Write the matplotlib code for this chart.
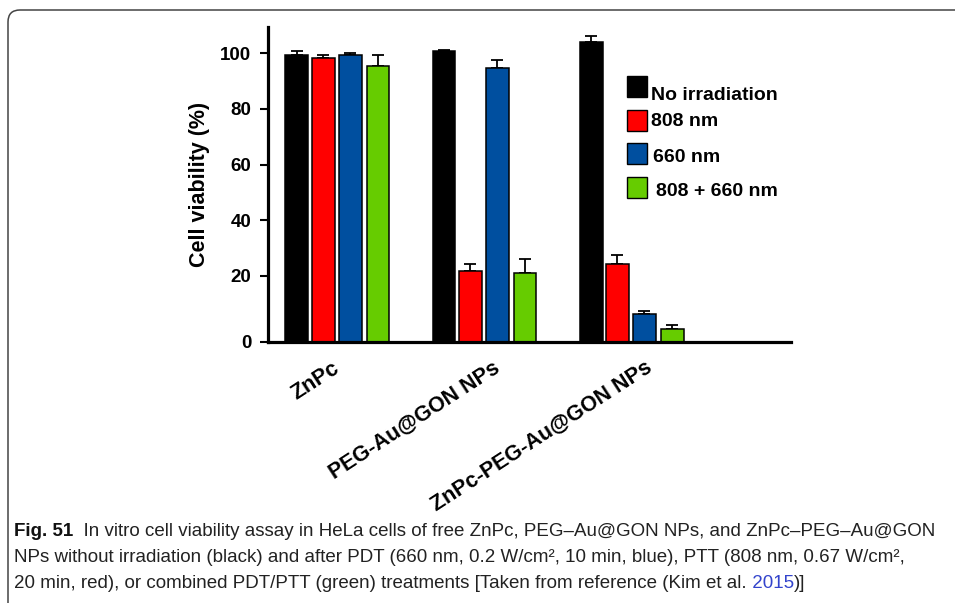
import matplotlib
matplotlib.use("Agg")
import matplotlib.pyplot as plt
import numpy as np
from matplotlib.patches import FancyBboxPatch, Rectangle

W, H, DPI = 955, 603, 100

GROUPS = ["ZnPc", "PEG-Au@GON NPs", "ZnPc-PEG-Au@GON NPs"]
SERIES = ["No irradiation", "808 nm", "660 nm", "808 + 660 nm"]
COLORS = ["#000000", "#ff0000", "#004f9f", "#66cc00"]

# cell viability (%), one value per group
NO_IRR = [99.5, 100.7, 104.0]
NM_808 = [98.1, 21.9, 24.4]
NM_660 = [99.4, 94.8, 6.3]
COMBO = [95.5, 21.2, 1.0]
# upper error bars
ERR_NO_IRR = [1.2, 0.5, 2.0]
ERR_808 = [1.4, 2.5, 3.2]
ERR_660 = [0.6, 2.7, 1.3]
ERR_COMBO = [4.0, 4.8, 1.5]

YTICKS = [0, 20, 40, 60, 80, 100]

CAPTION = [
    [("Fig. 51", "bold", "#111111"),
     ("  In vitro cell viability assay in HeLa cells of free ZnPc, PEG\u2013Au@GON NPs, and ZnPc\u2013PEG\u2013Au@GON",
      "normal", "#222222")],
    [("NPs without irradiation (black) and after PDT (660 nm, 0.2 W/cm\u00b2, 10 min, blue), PTT (808 nm, 0.67 W/cm\u00b2,",
      "normal", "#222222")],
    [("20 min, red), or combined PDT/PTT (green) treatments [Taken from reference (Kim et al.", "normal", "#222222"),
     (" 2015", "normal", "#3344cc"),
     (")]", "normal", "#222222")],
]

# the original draws its "0" at the axis line, slightly below true zero
YBASE = -3.7
BAR_W = 0.156
OFFSETS = [0.0, 0.179, 0.361, 0.551]
LABEL_SHIFT = [0.0, 0.09, 0.13]

plt.rcParams["font.family"] = ["Liberation Sans", "DejaVu Sans"]


def fig_xy(x, y):
    # pixel position measured from top-left -> figure fraction
    return x / W, 1 - y / H


def main() -> None:
    fig = plt.figure(figsize=(W / DPI, H / DPI), dpi=DPI)

    # rounded frame around the figure box
    frame = FancyBboxPatch((8 / DPI, -0.6), 11.0, (H - 10) / DPI + 0.6,
                           boxstyle="round,pad=0,rounding_size=0.12",
                           transform=fig.dpi_scale_trans, fill=False,
                           edgecolor="#444444", linewidth=1.1)
    fig.patches.append(frame)

    ax = fig.add_axes([268 / W, 1 - 342 / H, (791 - 268) / W, (342 - 27.3) / H])

    values = [NO_IRR, NM_808, NM_660, COMBO]
    errors = [ERR_NO_IRR, ERR_808, ERR_660, ERR_COMBO]
    x = np.arange(len(GROUPS))
    for vals, errs, off, color in zip(values, errors, OFFSETS, COLORS):
        vals = np.array(vals)
        ax.bar(x + off, vals - YBASE, bottom=YBASE, width=BAR_W, color=color,
               edgecolor="black", linewidth=1.1, zorder=2)
        ax.errorbar(x + off, vals, yerr=[np.zeros(len(errs)), errs], fmt="none",
                    ecolor="black", elinewidth=1.3, capsize=4, capthick=1.3, zorder=1)

    ax.set_xlim(-0.197, 3.36)
    ax.set_ylim(YBASE, 109.3)
    ax.set_yticks([YBASE if t == 0 else t for t in YTICKS])
    ax.set_yticklabels([str(t) for t in YTICKS], fontsize=13.5, fontweight="bold")
    ax.set_xticks([])
    ax.tick_params(axis="y", direction="out", length=6, width=1.5, pad=6)
    for side in ("top", "right"):
        ax.spines[side].set_visible(False)
    for side in ("left", "bottom"):
        ax.spines[side].set_linewidth(2.3)
    ax.set_ylabel("Cell viability (%)", fontsize=15.5, fontweight="bold", labelpad=7)

    centers = x + (OFFSETS[0] + OFFSETS[-1]) / 2
    for cx, name, dx in zip(centers, GROUPS, LABEL_SHIFT):
        ax.text(cx + dx, -0.077, name, transform=ax.get_xaxis_transform(),
                rotation=33, rotation_mode="anchor", ha="right", va="center",
                fontsize=15.5, fontweight="bold")

    # legend drawn as plain squares + labels, like the original
    sq_y = [76, 110, 143, 177]
    txt_pos = [(651, 95), (651, 122), (653, 157), (656, 191)]
    for label, color, ty, (tx, tyc) in zip(SERIES, COLORS, sq_y, txt_pos):
        fx, fy = fig_xy(627, ty + 21)
        fig.patches.append(Rectangle((fx, fy), 20 / W, 21 / H, transform=fig.transFigure,
                                     facecolor=color, edgecolor="black", linewidth=1.0))
        tx_f, ty_f = fig_xy(tx, tyc)
        fig.text(tx_f, ty_f, label, fontsize=14, fontweight="bold", va="center", ha="left")

    # caption
    fig.canvas.draw()
    renderer = fig.canvas.get_renderer()
    cap_family = ["Liberation Sans Narrow", "Liberation Sans"]
    for i, runs in enumerate(CAPTION):
        cur = 14
        y = 531 + i * 26
        for text, weight, color in runs:
            fx, fy = fig_xy(cur, y)
            t = fig.text(fx, fy, text, fontsize=13.5, fontweight=weight, color=color,
                         family=cap_family, va="center", ha="left")
            cur += t.get_window_extent(renderer).width

    fig.savefig("out.png", dpi=DPI)
    plt.close(fig)


if __name__ == "__main__":
    main()
